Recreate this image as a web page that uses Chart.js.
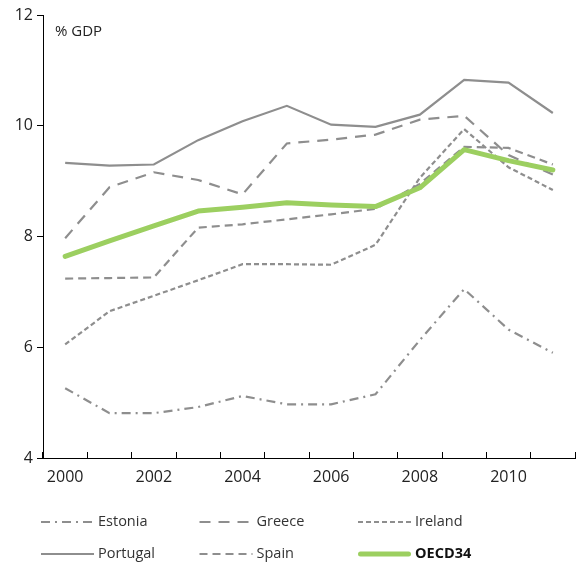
<!DOCTYPE html>
<html><head><meta charset="utf-8">
<script src="https://cdn.jsdelivr.net/npm/chart.js@4/dist/chart.umd.min.js"></script>
<style>html,body{margin:0;padding:0;background:#fff}canvas{display:block}</style>
</head><body>
<canvas id="c" width="583" height="564"></canvas>
<script>
const years = ['2000','2001','2002','2003','2004','2005','2006','2007','2008','2009','2010','2011'];
const yTicks = [4, 6, 8, 10, 12];
const unitLabel = '% GDP';
const estonia  = [5.26, 4.81, 4.81, 4.92, 5.12, 4.97, 4.97, 5.15, 6.13, 7.05, 6.32, 5.90];
const greece   = [7.97, 8.89, 9.16, 9.02, 8.76, 9.68, 9.75, 9.84, 10.11, 10.18, 9.47, 9.12];
const ireland  = [6.05, 6.65, 6.93, 7.21, 7.50, 7.50, 7.49, 7.85, 9.06, 9.94, 9.25, 8.84];
const portugal = [9.33, 9.28, 9.30, 9.74, 10.08, 10.36, 10.02, 9.98, 10.20, 10.83, 10.78, 10.23];
const spain    = [7.24, 7.25, 7.26, 8.16, 8.22, 8.31, 8.40, 8.50, 8.95, 9.62, 9.60, 9.30];
const oecd     = [7.64, 7.92, 8.19, 8.46, 8.53, 8.61, 8.57, 8.54, 8.88, 9.57, 9.37, 9.20];

const GRAY = '#8e8e8e';
const GREEN = '#9ccf60';
const FONT = '"Open Sans", "Noto Sans", sans-serif';

const datasets = [
  {label:'Estonia', data:estonia, borderColor:GRAY, borderWidth:2.2, borderDash:[9,5,2,5], order:1},
  {label:'Greece', data:greece, borderColor:GRAY, borderWidth:2.2, borderDash:[11,8], order:1},
  {label:'Ireland', data:ireland, borderColor:GRAY, borderWidth:2.2, borderDash:[5,3], order:1},
  {label:'Portugal', data:portugal, borderColor:GRAY, borderWidth:2.2, order:1},
  {label:'Spain', data:spain, borderColor:GRAY, borderWidth:2.2, borderDash:[8,5], order:1},
  {label:'OECD34', data:oecd, borderColor:GREEN, borderWidth:5, order:0, bold:true, borderCapStyle:'round', borderJoinStyle:'round'}
].map(d => Object.assign({pointRadius:0, pointHoverRadius:0, tension:0, fill:false}, d));

const extras = {
  id:'extras',
  afterDraw(chart){
    const ctx = chart.ctx, a = chart.chartArea;
    ctx.save();
    ctx.font = '15px ' + FONT;
    ctx.fillStyle = '#222';
    ctx.textBaseline = 'alphabetic';
    ctx.textAlign = 'left';
    ctx.fillText(unitLabel, a.left + 12, a.top + 21);
    chart.data.datasets.forEach((ds, i) => {
      const col = i % 3, row = Math.floor(i / 3);
      const tx = a.left + 55 + col * 158.5;
      const ty = a.bottom + 64 + row * 32;
      ctx.beginPath();
      ctx.setLineDash(ds.borderDash || []);
      ctx.lineWidth = ds.borderWidth;
      ctx.strokeStyle = ds.borderColor;
      const round = ds.borderCapStyle === 'round';
      ctx.lineCap = round ? 'round' : 'butt';
      const inset = round ? 2.5 : 0;
      ctx.moveTo(tx - 57 + inset, ty);
      ctx.lineTo(tx - 4 - inset, ty);
      ctx.stroke();
      ctx.setLineDash([]);
      ctx.font = (ds.bold ? 'bold ' : '') + '14.5px ' + FONT;
      ctx.fillStyle = ds.bold ? '#111' : '#333';
      ctx.textBaseline = 'middle';
      ctx.fillText(ds.label, tx, ty);
    });
    ctx.restore();
  }
};

new Chart(document.getElementById('c'), {
  type:'line',
  data:{labels:years, datasets},
  options:{
    responsive:false,
    animation:false,
    events:[],
    layout:{padding:{top:15, right:8, left:0, bottom:0}},
    plugins:{legend:{display:false}, tooltip:{enabled:false}},
    scales:{
      x:{
        offset:true,
        grid:{offset:true, drawOnChartArea:false, drawTicks:true, tickLength:-6, color:'#000', lineWidth:1},
        border:{display:true, color:'#000', width:1},
        ticks:{
          autoSkip:false, maxRotation:0, padding:16, color:'#222',
          font:{family:FONT, size:16},
          callback:(v, i) => (i % 2 === 0 ? years[i] : '')
        },
        afterFit:s => { s.height = 106; }
      },
      y:{
        min:4, max:12,
        afterBuildTicks:s => { s.ticks = yTicks.map(v => ({value:v})); },
        grid:{drawOnChartArea:false, drawTicks:true, tickLength:6, color:'#000', lineWidth:1},
        border:{display:true, color:'#000', width:1},
        ticks:{padding:4, color:'#222', font:{family:FONT, size:16}},
        afterFit:s => { s.width = 43; }
      }
    }
  },
  plugins:[extras]
});
</script>
</body></html>
